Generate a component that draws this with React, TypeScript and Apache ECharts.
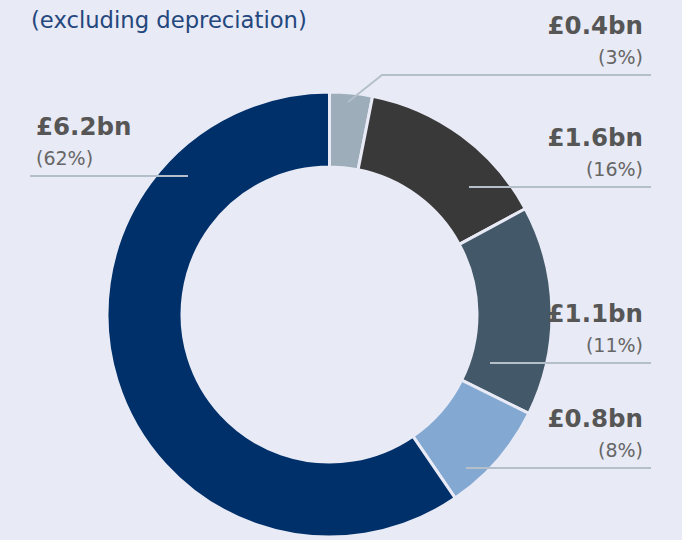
import React, { useEffect, useRef } from "react";
import * as echarts from "echarts";

// ---- data ----
const categories = ["A", "B", "C", "D", "E"];
const amounts = ["£0.4bn", "£1.6bn", "£1.1bn", "£0.8bn", "£6.2bn"];
const percents = ["(3%)", "(16%)", "(11%)", "(8%)", "(62%)"];
// slice sizes as drawn (share of circle, %)
const shares = [3.1, 14.0, 15.2, 8.1, 59.5];

// ---- styles / layout ----
const BG = "#e8eaf5";
const colors = ["#9dadba", "#393939", "#435869", "#83a8d2", "#00306a"];
const CX = 329.5;
const CY = 314.5;
const labelAnchors: { x: number; y: number; start: [number, number]; elbow?: [number, number]; lineEnd: number; side: "left" | "right" }[] = [
  { x: 643, y: 75, start: [348, 102], elbow: [382, 75], lineEnd: 651, side: "right" },
  { x: 643, y: 187, start: [469, 187], lineEnd: 651, side: "right" },
  { x: 643, y: 363, start: [490, 363], lineEnd: 651, side: "right" },
  { x: 643, y: 468, start: [466, 468], lineEnd: 651, side: "right" },
  { x: 36, y: 176, start: [188, 176], lineEnd: 30, side: "left" },
];

export default function App() {
  const ref = useRef<HTMLDivElement>(null);
  useEffect(() => {
    if (!ref.current) return;
    const chart = echarts.init(ref.current, undefined, { renderer: "svg" });
    const dataItems = (transparent: boolean) =>
      categories.map((c, i) => ({
        name: c,
        value: shares[i],
        itemStyle: { color: transparent ? "rgba(0,0,0,0)" : colors[i] },
      }));
    chart.setOption({
      animation: false,
      backgroundColor: BG,
      title: {
        text: "(excluding depreciation)",
        left: 31,
        top: 8,
        padding: 0,
        textStyle: {
          fontFamily: "DejaVu Sans",
          fontSize: 22.7,
          fontWeight: "normal",
          color: "#24477e",
          lineHeight: 24,
        },
      },
      series: [
        {
          type: "pie",
          z: 2,
          center: [CX, CY],
          radius: [147.5, 222.5],
          startAngle: 90,
          clockwise: true,
          silent: true,
          itemStyle: { borderColor: BG, borderWidth: 3 },
          emphasis: { disabled: true },
          label: { show: false },
          labelLine: { show: false },
          data: dataItems(false),
        },
        {
          type: "pie",
          z: 4,
          center: [CX, CY],
          radius: [147.5, 222.5],
          startAngle: 90,
          clockwise: true,
          silent: true,
          avoidLabelOverlap: false,
          itemStyle: { borderWidth: 0 },
          emphasis: { disabled: true },
          data: dataItems(true),
          label: {
            show: true,
            position: "outside",
            formatter: (p: any) => `{a|${amounts[p.dataIndex]}}\n{b|${percents[p.dataIndex]}}`,
            rich: {
              a: {
                fontFamily: "DejaVu Sans",
                fontSize: 24.5,
                fontWeight: "bold",
                color: "#565656",
                lineHeight: 31,
              },
              b: {
                fontFamily: "DejaVu Sans",
                fontSize: 19,
                color: "#666666",
                lineHeight: 31,
              },
            },
          },
          labelLine: {
            show: true,
            smooth: false,
            lineStyle: { color: "#b4bfca", width: 1.8 },
          },
          labelLayout: (params: any) => {
            const a = labelAnchors[params.dataIndex];
            const pts: number[][] = [a.start];
            if (a.elbow) pts.push(a.elbow);
            else pts.push([(a.start[0] + a.lineEnd) / 2, a.y]);
            pts.push([a.lineEnd, a.y]);
            return {
              x: a.x,
              y: a.y - 3,
              align: a.side === "right" ? "right" : "left",
              verticalAlign: "bottom",
              labelLinePoints: pts,
            };
          },
        },
      ],
    });
    return () => chart.dispose();
  }, []);
  return (
    <div
      ref={ref}
      style={{ position: "fixed", left: 0, top: 0, width: 682, height: 540 }}
    />
  );
}
